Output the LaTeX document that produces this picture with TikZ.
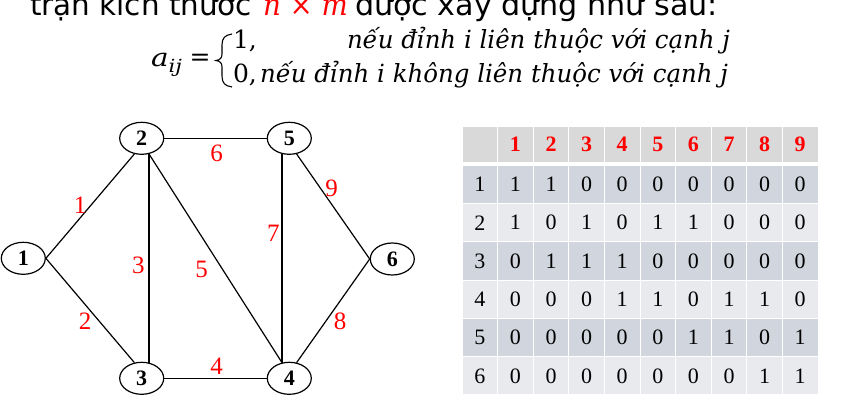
\documentclass[tikz,border=0pt]{standalone}
\usepackage{fontspec}
\usepackage{graphicx}
\usetikzlibrary{shapes.geometric}
\setmainfont{Liberation Serif}
\newfontfamily\tahfont{DejaVu Sans}
\newfontfamily\camfont{DejaVu Serif}
\newsavebox\fitbox
\newcommand\fitto[2]{\sbox\fitbox{#2}\pgfmathsetmacro\fitr{#1/\the\wd\fitbox}\scalebox{\fitr}[1]{\usebox\fitbox}}
\definecolor{hdr}{RGB}{217,217,217}
\definecolor{rowa}{RGB}{208,213,222}
\definecolor{rowb}{RGB}{233,234,238}
\definecolor{lblred}{RGB}{255,0,0}
\begin{document}
\begin{tikzpicture}[x=1pt,y=-1pt,
  vtx/.style={draw, ellipse, minimum width=44pt, minimum height=32pt, inner sep=0pt, line width=1.2pt, font=\bfseries\fontsize{22}{24}\selectfont},
  edge/.style={line width=1.2pt},
  elbl/.style={text=lblred, inner sep=0pt, font=\fontsize{25}{28}\selectfont},
  cell/.style={minimum width=35.6pt, minimum height=38.28pt, inner sep=0pt, outer sep=0pt, draw=white, line width=1pt, font=\fontsize{22}{24}\selectfont},
  hcell/.style={cell, minimum height=36pt, fill=hdr, text=lblred, font=\bfseries\fontsize{22}{24}\selectfont},
  txt/.style={anchor=base west, inner sep=0pt, outer sep=0pt}]
\path[use as bounding box] (0,0) rectangle (855,407);
\clip (0,0) rectangle (855,407);

% top line
\node[txt] (t1) at (30,15) {\fitto{222}{\tahfont\fontsize{30}{36}\selectfont trận kích thước}};
\node[txt, text=lblred] (t2) at (263,15) {\fitto{85}{\camfont\fontsize{30}{36}\selectfont\itshape n\/ \upshape× \itshape m}};
\node[txt] (t3) at (355,15) {\fitto{363}{\tahfont\fontsize{30}{36}\selectfont được xây dựng như sau:}};

% formula
\node[txt] (aij) at (151,66) {\fitto{31}{\camfont\itshape\fontsize{25}{30}\selectfont a\raisebox{-6pt}{\fontsize{18}{20}\selectfont ij}}};
\node[inner sep=0pt] (eq) at (200,60) {\camfont\fontsize{25}{30}\selectfont =};
\draw[line width=1.1pt] (232,34) .. controls (225,35) and (222,38) .. (222,45) -- (222,54)
  .. controls (222,58) and (220,60) .. (216,60.5) .. controls (220,61) and (222,63) .. (222,67)
  -- (222,76) .. controls (222,83) and (225,86) .. (232,87);
\node[txt] (one) at (233,48) {\camfont\fontsize{25}{30}\selectfont 1,};
\node[txt] (zero) at (233,82) {\camfont\fontsize{25}{30}\selectfont 0,};
\node[txt] (c1) at (347,48) {\fitto{383}{\camfont\itshape\fontsize{25}{30}\selectfont nếu đỉnh i liên thuộc với cạnh j}};
\node[txt] (c2) at (260,82) {\fitto{468}{\camfont\itshape\fontsize{25}{30}\selectfont nếu đỉnh i không liên thuộc với cạnh j}};

% graph
\node[vtx] (n1) at (23.3,258.3) {1};
\node[vtx] (n2) at (141.7,138.3) {2};
\node[vtx] (n3) at (141.7,378.3) {3};
\node[vtx] (n4) at (289.3,378.3) {4};
\node[vtx] (n5) at (289.3,138.3) {5};
\node[vtx] (n6) at (392.3,259) {6};

\draw[edge] (n1.east) -- (n2.-115);
\draw[edge] (n1.east) -- (n3.115);
\draw[edge] (n2.-65) -- (n3.65);
\draw[edge] (n3.east) -- (n4.west);
\draw[edge] (n2.-65) -- (n4.115);
\draw[edge] (n2.east) -- (n5.west);
\draw[edge] (n5.-115) -- (n4.115);
\draw[edge] (n6.west) -- (n4.65);
\draw[edge] (n5.-65) -- (n6.west);

\node[elbl] (l1) at (80,205) {1};
\node[elbl] (l2) at (85,321.7) {2};
\node[elbl] (l3) at (138.3,265) {3};
\node[elbl] (l4) at (216.7,366.7) {4};
\node[elbl] (l5) at (201.7,269.3) {5};
\node[elbl] (l6) at (216.7,153.3) {6};
\node[elbl] (l7) at (273.3,233.3) {7};
\node[elbl] (l8) at (340,321.7) {8};
\node[elbl] (l9) at (331.7,188.3) {9};

% table
\foreach \j in {0,...,9} {
  \node[hcell] (h\j) at ({462+35.6*(\j+0.5)},144) {\ifnum\j>0 \j\fi};
}
\foreach \r/\vals in {1/{1,1,0,0,0,0,0,0,0},2/{1,0,1,0,1,1,0,0,0},3/{0,1,1,1,0,0,0,0,0},4/{0,0,0,1,1,0,1,1,0},5/{0,0,0,0,0,1,1,0,1},6/{0,0,0,0,0,0,0,1,1}} {
  \pgfmathtruncatemacro\odd{mod(\r,2)}
  \ifnum\odd=1 \def\rc{rowa}\else\def\rc{rowb}\fi
  \node[cell, fill=\rc] (r\r c0) at ({462+35.6*0.5},{184.44+38.28*(\r-1)}) {\r};
  \foreach \v [count=\c] in \vals {
    \node[cell, fill=\rc] (r\r c\c) at ({462+35.6*(\c+0.5)},{184.44+38.28*(\r-1)}) {\v};
  }
}
\end{tikzpicture}
\end{document}
